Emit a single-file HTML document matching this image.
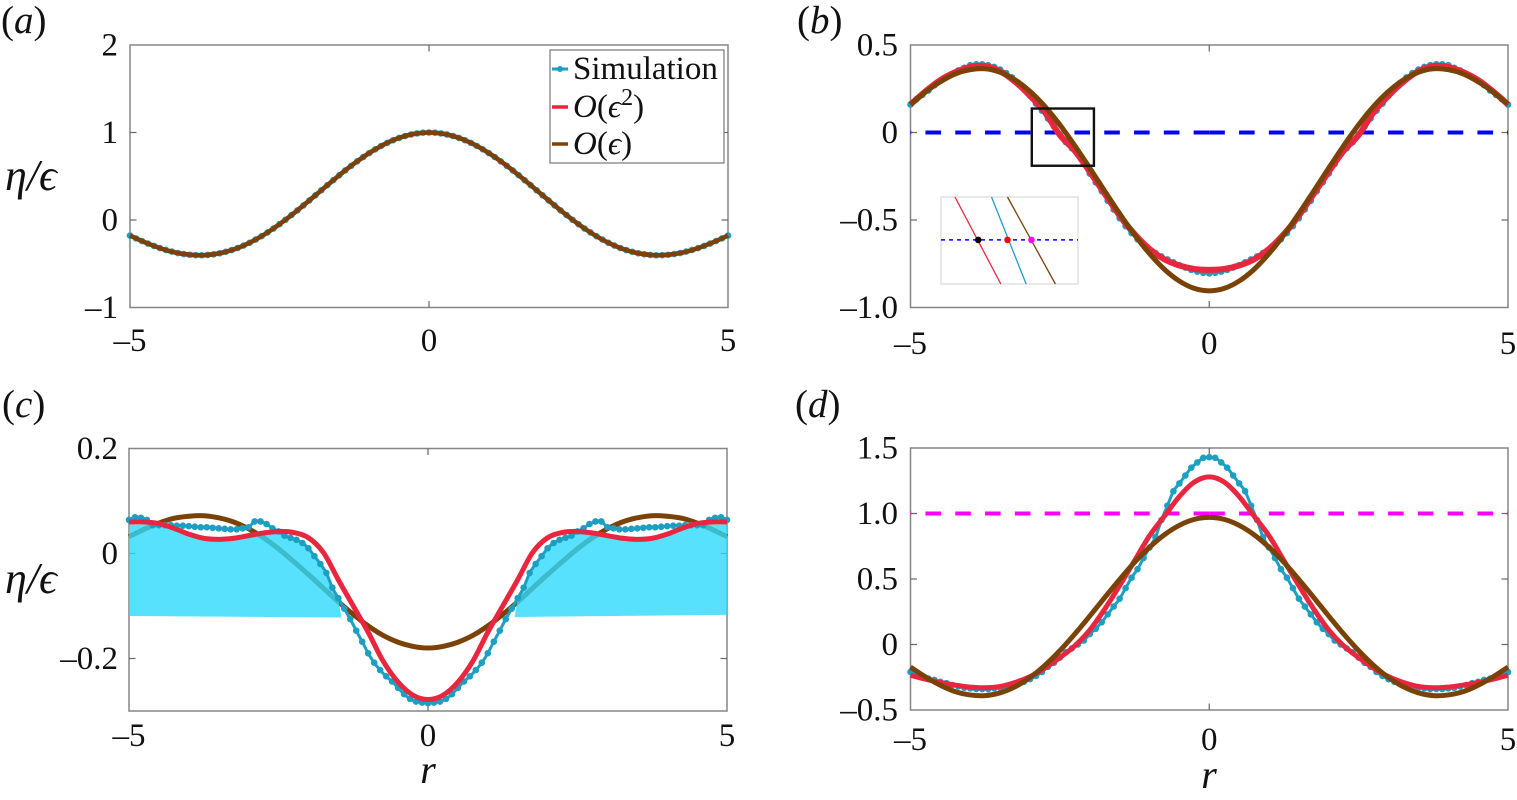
<!DOCTYPE html>
<html lang="en">
<head>
<meta charset="utf-8">
<title>Surface elevation comparison</title>
<style>
html,body{margin:0;padding:0;background:#fff;}
svg{display:block;}
text{font-family:"Liberation Serif","DejaVu Serif",serif;fill:#111;}
.tick{font-size:33px;}
.it{font-style:italic;}
</style>
</head>
<body>
<svg id="fig" xmlns="http://www.w3.org/2000/svg" width="1517" height="800" viewBox="0 0 1517 800">
  <rect x="0" y="0" width="1517" height="800" fill="#fff"/>
  <g id="panel-a"></g>
  <g id="panel-b"></g>
  <g id="panel-c"></g>
  <g id="panel-d"></g>

  <text x="1" y="33" font-size="39"><tspan>(</tspan><tspan class="it">a</tspan><tspan>)</tspan></text>
  <text x="797" y="33" font-size="39"><tspan>(</tspan><tspan class="it">b</tspan><tspan>)</tspan></text>
  <text x="2" y="417" font-size="39"><tspan>(</tspan><tspan class="it">c</tspan><tspan>)</tspan></text>
  <text x="795" y="417" font-size="39"><tspan>(</tspan><tspan class="it">d</tspan><tspan>)</tspan></text>

  <text class="it" x="5" y="190" font-size="44">η/ϵ</text>
  <text class="it" x="5" y="593" font-size="44">η/ϵ</text>
  <text class="it" x="428" y="783" font-size="40" text-anchor="middle">r</text>
  <text class="it" x="1209" y="788" font-size="40" text-anchor="middle">r</text>

  <g>
    <rect x="550" y="50" width="174" height="113" fill="#fff" stroke="#777" stroke-width="1.2"/>
    <g>
      <line x1="552" y1="69" x2="568" y2="69" stroke="#1d9fc2" stroke-width="3"/>
      <circle cx="560" cy="69" r="3" fill="#1d9fc2"/>
      <text x="573" y="79" font-size="33">Simulation</text>
    </g>
    <g>
      <line x1="552" y1="107" x2="568" y2="107" stroke="#e8263f" stroke-width="3.5"/>
      <text x="573" y="117" font-size="33"><tspan class="it">O</tspan>(<tspan class="it">ϵ</tspan><tspan font-size="24" dy="-12">2</tspan><tspan dy="12">)</tspan></text>
    </g>
    <g>
      <line x1="552" y1="144" x2="568" y2="144" stroke="#7a4206" stroke-width="3.5"/>
      <text x="573" y="154" font-size="33"><tspan class="it">O</tspan>(<tspan class="it">ϵ</tspan>)</text>
    </g>
  </g>
</svg>

<script>
/* radial coordinates of the stored half-profiles (the curves are drawn mirrored about r = 0) */
const rCoarse = [0,0.25,0.5,0.75,1,1.25,1.5,1.75,2,2.25,2.5,2.75,3,3.25,3.5,3.75,4,4.25,4.5,4.75,5];
const rFine = [0,0.1,0.2,0.3,0.4,0.5,0.6,0.7,0.8,0.9,
  1,1.1,1.2,1.3,1.4,1.5,1.6,1.7,1.8,1.9,
  2,2.1,2.2,2.3,2.4,2.5,2.6,2.7,2.8,2.9,
  3,3.1,3.2,3.3,3.4,3.5,3.6,3.7,3.8,3.9,
  4,4.1,4.2,4.3,4.4,4.5,4.6,4.7,4.8,4.9,5];

/* panel (a) */
const simA = [1,0.998,0.99,0.978,0.96,0.938,0.912,0.881,0.846,0.808,
  0.765,0.72,0.671,0.62,0.567,0.512,0.455,0.398,0.34,0.282,
  0.224,0.167,0.11,0.056,0.003,-0.048,-0.097,-0.142,-0.185,-0.224,
  -0.26,-0.292,-0.32,-0.344,-0.364,-0.38,-0.392,-0.399,-0.403,-0.402,
  -0.397,-0.389,-0.377,-0.361,-0.342,-0.321,-0.296,-0.269,-0.24,-0.21,-0.178];
const redA = [1,0.984,0.938,0.864,0.765,0.646,0.512,0.369,0.224,0.083,-0.048,-0.164,-0.26,-0.333,-0.38,-0.402,-0.397,-0.371,-0.321,-0.255,-0.178];
const brownA = [1,0.984,0.938,0.864,0.765,0.646,0.512,0.369,0.224,0.083,-0.048,-0.164,-0.26,-0.333,-0.38,-0.402,-0.397,-0.371,-0.321,-0.255,-0.178];

/* panel (b) */
const simB = [-0.805,-0.802,-0.795,-0.785,-0.772,-0.758,-0.742,-0.725,-0.708,-0.688,
  -0.67,-0.64,-0.61,-0.575,-0.535,-0.49,-0.44,-0.39,-0.335,-0.285,
  -0.235,-0.18,-0.125,-0.09,-0.055,-0.01,0.035,0.08,0.125,0.165,
  0.21,0.25,0.285,0.315,0.34,0.36,0.375,0.385,0.39,0.39,
  0.385,0.37,0.355,0.335,0.315,0.295,0.27,0.24,0.215,0.19,0.16];
const redB = [-0.785,-0.78,-0.76,-0.725,-0.665,-0.58,-0.475,-0.35,-0.225,-0.105,-0.015,0.115,0.21,0.29,0.35,0.38,0.375,0.345,0.3,0.235,0.16];
const brownB = [-0.905,-0.891,-0.849,-0.782,-0.692,-0.585,-0.463,-0.334,-0.203,-0.075,0.044,0.149,0.235,0.301,0.344,0.364,0.359,0.335,0.29,0.231,0.161];
const zeroLineB = [0];
const zoomBoxR = [-2.97,-1.93];
const zoomBoxEta = [0.137,-0.19];

/* inset of panel (b): line end points and crossing dots, in data units */
const insetDomainR = [-2.97,-1.94];
const insetDomainEta = [0.185,-0.19];
const insetEtaEnds = [0.185,-0.19];
const insetRedR = [-2.865,-2.52];
const insetSimR = [-2.59,-2.33];
const insetBrownR = [-2.47,-2.11];
const insetDotR = [-2.69,-2.47,-2.29];

/* panel (c) */
const simC = [-0.285,-0.284,-0.282,-0.277,-0.268,-0.256,-0.244,-0.234,-0.222,-0.208,
  -0.19,-0.168,-0.147,-0.125,-0.105,-0.085,-0.065,-0.037,-0.02,-0.005,
  0.01,0.02,0.026,0.03,0.034,0.042,0.048,0.056,0.061,0.061,
  0.05,0.048,0.046,0.046,0.047,0.048,0.049,0.05,0.05,0.051,
  0.052,0.053,0.053,0.054,0.054,0.054,0.054,0.064,0.068,0.069,0.064];
const redC = [-0.278,-0.27,-0.245,-0.205,-0.15,-0.1,-0.05,0.002,0.03,0.04,0.042,0.039,0.034,0.029,0.027,0.029,0.037,0.048,0.057,0.06,0.06];
const brownC = [-0.18,-0.177,-0.169,-0.156,-0.138,-0.116,-0.092,-0.066,-0.04,-0.015,0.009,0.03,0.047,0.06,0.068,0.072,0.071,0.067,0.058,0.046,0.032];
const shadeR = [1.45,1.5,1.75,2,2.25,2.5,2.75,3,3.25,3.5,3.75,4,4.25,4.5,4.75,5];
const shadeTop = [-0.12,-0.085,-0.03,0.01,0.028,0.042,0.039,0.034,0.029,0.027,0.029,0.037,0.048,0.055,0.055,0.055];
const shadeBottomLeft = [-0.122,-0.119];
const shadeBottomRight = [-0.121,-0.117];

/* panel (d) */
const simD = [1.43,1.425,1.39,1.35,1.29,1.23,1.17,1.06,0.95,0.82,
  0.74,0.66,0.575,0.51,0.43,0.35,0.29,0.23,0.17,0.12,
  0.08,0.03,0,-0.03,-0.06,-0.1,-0.14,-0.17,-0.21,-0.24,
  -0.265,-0.285,-0.3,-0.315,-0.325,-0.33,-0.335,-0.34,-0.34,-0.34,
  -0.335,-0.33,-0.32,-0.31,-0.295,-0.285,-0.27,-0.26,-0.24,-0.225,-0.21];
const redD = [1.28,1.24,1.13,0.98,0.83,0.64,0.45,0.27,0.11,-0.01,-0.1,-0.18,-0.245,-0.29,-0.32,-0.33,-0.325,-0.31,-0.29,-0.265,-0.235];
const brownD = [0.97,0.955,0.91,0.838,0.742,0.627,0.496,0.358,0.217,0.08,-0.047,-0.159,-0.252,-0.323,-0.369,-0.39,-0.385,-0.36,-0.311,-0.247,-0.172];
const unitLineD = [1];

/* axis ticks */
const xTicks = [-5,0,5];
const xTickLabels = ['–5','0','5'];
const yTicksA = [2,1,0,-1];
const yTickLabelsA = ['2','1','0','–1'];
const yTicksB = [0.5,0,-0.5,-1];
const yTickLabelsB = ['0.5','0','–0.5','–1.0'];
const yTicksC = [0.2,0,-0.2];
const yTickLabelsC = ['0.2','0','–0.2'];
const yTicksD = [1.5,1,0.5,0,-0.5];
const yTickLabelsD = ['1.5','1.0','0.5','0','–0.5'];

const NS = 'http://www.w3.org/2000/svg';
const SIM_COLOR = '#1d9fc2', RED_COLOR = '#e8263f', BROWN_COLOR = '#7a4206';

function make(parent, tag, attrs) {
  const n = document.createElementNS(NS, tag);
  for (const k in attrs) n.setAttribute(k, attrs[k]);
  parent.appendChild(n);
  return n;
}
function linear(d0, d1, p0, p1) {
  return v => p0 + (v - d0) / (d1 - d0) * (p1 - p0);
}
function mirrored(rs, vs) {
  const pts = [];
  for (let i = rs.length - 1; i > 0; i--) pts.push([-rs[i], vs[i]]);
  for (let i = 0; i < rs.length; i++) pts.push([rs[i], vs[i]]);
  return pts;
}
function smoothPath(px) {
  let d = 'M' + px[0][0].toFixed(2) + ' ' + px[0][1].toFixed(2);
  for (let i = 0; i < px.length - 1; i++) {
    const p0 = px[Math.max(0, i - 1)], p1 = px[i], p2 = px[i + 1], p3 = px[Math.min(px.length - 1, i + 2)];
    const c1x = p1[0] + (p2[0] - p0[0]) / 6, c1y = p1[1] + (p2[1] - p0[1]) / 6;
    const c2x = p2[0] - (p3[0] - p1[0]) / 6, c2y = p2[1] - (p3[1] - p1[1]) / 6;
    d += 'C' + c1x.toFixed(2) + ' ' + c1y.toFixed(2) + ' ' + c2x.toFixed(2) + ' ' + c2y.toFixed(2) + ' ' + p2[0].toFixed(2) + ' ' + p2[1].toFixed(2);
  }
  return d;
}

function setupAxes(id, box, yDomain, yTicks, yLabels, xLabelBaseline, yLabelRight) {
  const g = document.getElementById(id);
  const x = linear(-5, 5, box.left, box.right);
  const y = linear(yDomain[0], yDomain[1], box.top, box.bottom);

  const frame = make(g, 'rect', {x: box.left, y: box.top, width: box.right - box.left, height: box.bottom - box.top, fill: 'none', stroke: '#858585', 'stroke-width': 1.5});
  
  

  yTicks.forEach((t, i) => {
    const py = y(t);
    if (t !== yDomain[0] && t !== yDomain[1]) {
      const a = make(g, 'line', {x1: box.left, x2: box.left + 6.5, y1: py, y2: py, stroke: '#666', 'stroke-width': 1.2});
      
      
      const b = make(g, 'line', {x1: box.right - 6.5, x2: box.right, y1: py, y2: py, stroke: '#666', 'stroke-width': 1.2});
      
      
    }
    const label = make(g, 'text', {x: yLabelRight, y: py + 10.5, 'text-anchor': 'end', class: 'tick'});
    label.textContent = yLabels[i];
    
    
  });
  xTicks.forEach((t, i) => {
    const px = x(t);
    if (t !== -5 && t !== 5) {
      const a = make(g, 'line', {x1: px, x2: px, y1: box.top, y2: box.top + 6.5, stroke: '#666', 'stroke-width': 1.2});
      
      
      const b = make(g, 'line', {x1: px, x2: px, y1: box.bottom - 6.5, y2: box.bottom, stroke: '#666', 'stroke-width': 1.2});
      
      
    }
    const label = make(g, 'text', {x: px, y: xLabelBaseline, 'text-anchor': 'middle', class: 'tick'});
    label.textContent = xTickLabels[i];
    
    
  });
  return {g, x, y, box};
}

function drawSim(ax, values, name) {
  const pts = mirrored(rFine, values).map(p => [ax.x(p[0]), ax.y(p[1])]);
  const line = make(ax.g, 'path', {d: smoothPath(pts), fill: 'none', stroke: SIM_COLOR, 'stroke-width': 3});
  
  
  pts.forEach(p => {
    const dot = make(ax.g, 'circle', {cx: p[0].toFixed(2), cy: p[1].toFixed(2), r: 3.3, fill: SIM_COLOR});
    
    
  });
}
function drawCurve(ax, values, color, width, name) {
  const pts = mirrored(rCoarse, values).map(p => [ax.x(p[0]), ax.y(p[1])]);
  const line = make(ax.g, 'path', {d: smoothPath(pts), fill: 'none', stroke: color, 'stroke-width': width});
  
  
}
function drawDashed(ax, level, color, name) {
  [-5, 5].forEach(end => {
    const l = make(ax.g, 'line', {x1: ax.x(0), x2: ax.x(end), y1: ax.y(level), y2: ax.y(level), stroke: color, 'stroke-width': 4, 'stroke-dasharray': '15.6 14.2'});
    
    
  });
}

/* ---------- panel a ---------- */
const axA = setupAxes('panel-a', {left: 130, right: 728, top: 45, bottom: 307.5}, [2, -1], yTicksA, yTickLabelsA, 351, 118);
drawSim(axA, simA, 'simulation-a');
drawCurve(axA, redA, RED_COLOR, 4.5, 'second-order-curve-a');
drawCurve(axA, brownA, BROWN_COLOR, 4.5, 'first-order-curve-a');

/* ---------- panel b ---------- */
const axB = setupAxes('panel-b', {left: 910.5, right: 1508, top: 45, bottom: 307.5}, [0.5, -1], yTicksB, yTickLabelsB, 354, 898);
drawDashed(axB, zeroLineB[0], '#0000ff', 'zero-level-dashed-line');
drawSim(axB, simB, 'simulation-b');
drawCurve(axB, redB, RED_COLOR, 6, 'second-order-curve-b');
drawCurve(axB, brownB, BROWN_COLOR, 5, 'first-order-curve-b');

const zoomBox = make(axB.g, 'rect', {
  x: axB.x(zoomBoxR[0]), y: axB.y(zoomBoxEta[0]),
  width: axB.x(zoomBoxR[1]) - axB.x(zoomBoxR[0]),
  height: axB.y(zoomBoxEta[1]) - axB.y(zoomBoxEta[0]),
  fill: 'none', stroke: '#111', 'stroke-width': 2.4
});



/* inset */
const insetG = make(axB.g, 'g', {});


const inX = linear(insetDomainR[0], insetDomainR[1], 941, 1078);
const inY = linear(insetDomainEta[0], insetDomainEta[1], 197, 284);
const insetFrame = make(insetG, 'rect', {x: 941, y: 197, width: 137, height: 87, fill: '#fff', stroke: '#d8d8d8', 'stroke-width': 1.2});


const insetZero = make(insetG, 'line', {x1: 941, x2: 1078, y1: inY(0), y2: inY(0), stroke: '#0000ff', 'stroke-width': 1.5, 'stroke-dasharray': '4 4'});


const insetRed = make(insetG, 'line', {x1: inX(insetRedR[0]), x2: inX(insetRedR[1]), y1: inY(insetEtaEnds[0]), y2: inY(insetEtaEnds[1]), stroke: RED_COLOR, 'stroke-width': 1.3});


const insetSim = make(insetG, 'line', {x1: inX(insetSimR[0]), x2: inX(insetSimR[1]), y1: inY(insetEtaEnds[0]), y2: inY(insetEtaEnds[1]), stroke: SIM_COLOR, 'stroke-width': 1.3});


const insetBrown = make(insetG, 'line', {x1: inX(insetBrownR[0]), x2: inX(insetBrownR[1]), y1: inY(insetEtaEnds[0]), y2: inY(insetEtaEnds[1]), stroke: BROWN_COLOR, 'stroke-width': 1.3});


const dotColors = ['#000', '#ff0000', '#ff00ff'];
insetDotR.forEach((r, i) => {
  const dot = make(insetG, 'circle', {cx: inX(r), cy: inY(0), r: 3.3, fill: dotColors[i]});
  
  
});

/* ---------- panel c ---------- */
const axC = setupAxes('panel-c', {left: 129, right: 727, top: 448.5, bottom: 711}, [0.2, -0.3], yTicksC, yTickLabelsC, 746, 118);
drawCurve(axC, brownC, BROWN_COLOR, 5, 'first-order-curve-c');
[[-1, shadeBottomLeft, 'shaded-region-left'], [1, shadeBottomRight, 'shaded-region-right']].forEach(cfg => {
  const sign = cfg[0], bottom = cfg[1];
  const pts = shadeR.map((r, i) => [axC.x(sign * r), axC.y(shadeTop[i])]);
  pts.push([axC.x(sign * shadeR[shadeR.length - 1]), axC.y(bottom[1])]);
  pts.push([axC.x(sign * shadeR[0]), axC.y(bottom[0])]);
  const poly = make(axC.g, 'polygon', {points: pts.map(p => p[0].toFixed(1) + ',' + p[1].toFixed(1)).join(' '), fill: '#2ddafb', 'fill-opacity': 0.8});
  
  
});
drawSim(axC, simC, 'simulation-c');
drawCurve(axC, redC, RED_COLOR, 5, 'second-order-curve-c');

/* ---------- panel d ---------- */
const axD = setupAxes('panel-d', {left: 910.5, right: 1508, top: 448, bottom: 710}, [1.5, -0.5], yTicksD, yTickLabelsD, 750, 898);
drawDashed(axD, unitLineD[0], '#ff00ff', 'unit-level-dashed-line');
drawSim(axD, simD, 'simulation-d');
drawCurve(axD, redD, RED_COLOR, 5, 'second-order-curve-d');
drawCurve(axD, brownD, BROWN_COLOR, 5, 'first-order-curve-d');
</script>
</body>
</html>
